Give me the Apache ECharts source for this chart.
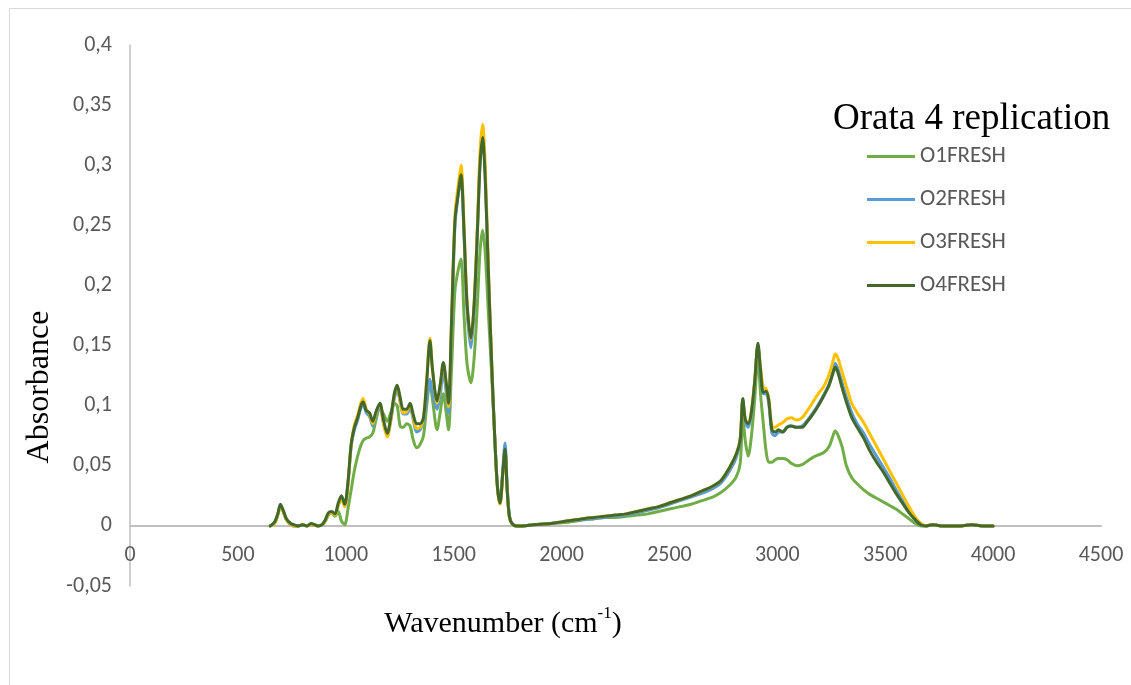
<!DOCTYPE html>
<html>
<head>
<meta charset="utf-8">
<script src="https://cdn.jsdelivr.net/npm/echarts@6/dist/echarts.min.js"></script>
<style>
  html, body { margin: 0; padding: 0; background: #ffffff; }
  #chart { width: 1131px; height: 685px; }
</style>
</head>
<body>
<div id="chart"></div>
<script>
// FTIR spectra of four fresh gilthead sea bream (orata) replicates
const wavenumbers = [
  650, 670, 685, 697, 710, 725, 745, 760, 780, 800, 820, 840, 855, 870, 890, 905, 920, 935, 950, 965, 980, 995,
  1010, 1025, 1040, 1055, 1070, 1080, 1095, 1110, 1125, 1140, 1158, 1175, 1192, 1210, 1225, 1238, 1252, 1266, 1282, 1298, 1312, 1328, 1345,
  1360, 1375, 1390, 1402, 1423, 1438, 1452, 1465, 1476, 1490, 1506, 1520, 1534, 1548, 1562, 1580,
  1595, 1610, 1622, 1634, 1646, 1660, 1675, 1690, 1703, 1715, 1728, 1738, 1748, 1758, 1770, 1790, 1820, 1870,
  1950, 2025, 2100, 2150, 2200, 2250, 2300, 2350, 2400, 2450, 2500, 2550, 2600, 2650, 2700, 2740, 2780, 2810,
  2828, 2840, 2852, 2865, 2880, 2895, 2910, 2922, 2935, 2948, 2960, 2975, 2990, 3005, 3025, 3045, 3065, 3090, 3115,
  3140, 3165, 3190, 3215, 3240, 3258, 3268, 3280, 3300, 3320, 3345, 3370, 3400, 3430, 3460,
  3490, 3520, 3550, 3580, 3610, 3640, 3665, 3690, 3720, 3760, 3800, 3850, 3900, 3950, 4000
];

const o1Fresh = [
  0.000, 0.002, 0.009, 0.016, 0.012, 0.005, 0.001, 0.000, 0.000, 0.001, 0.000, 0.002, 0.001, 0.000, 0.001, 0.004, 0.009, 0.011, 0.008, 0.012, 0.004, 0.001,
  0.014, 0.030, 0.046, 0.058, 0.067, 0.071, 0.073, 0.074, 0.077, 0.088, 0.098, 0.093, 0.087, 0.095, 0.102, 0.100, 0.083, 0.082, 0.085, 0.083, 0.072, 0.065, 0.068,
  0.075, 0.100, 0.120, 0.105, 0.080, 0.095, 0.110, 0.095, 0.080, 0.130, 0.196, 0.212, 0.222, 0.175, 0.135, 0.119,
  0.140, 0.185, 0.228, 0.246, 0.228, 0.180, 0.130, 0.075, 0.032, 0.019, 0.045, 0.064, 0.030, 0.008, 0.002, 0.000, 0.000, 0.001,
  0.002, 0.003, 0.005, 0.006, 0.007, 0.007, 0.008, 0.009, 0.010, 0.012, 0.014, 0.016, 0.018, 0.021, 0.024, 0.028, 0.034, 0.041,
  0.052, 0.090, 0.070, 0.058, 0.075, 0.105, 0.140, 0.110, 0.085, 0.062, 0.053, 0.053, 0.055, 0.056, 0.056, 0.055, 0.052, 0.050, 0.051,
  0.054, 0.057, 0.059, 0.061, 0.066, 0.075, 0.079, 0.076, 0.066, 0.050, 0.040, 0.035, 0.030, 0.026, 0.023,
  0.020, 0.017, 0.014, 0.010, 0.006, 0.002, 0.000, 0.000, 0.001, 0.000, 0.000, 0.000, 0.001, 0.000, 0.000
];

const o2Fresh = [
  0.000, 0.003, 0.010, 0.017, 0.012, 0.005, 0.001, 0.000, 0.000, 0.001, 0.000, 0.001, 0.001, 0.000, 0.001, 0.004, 0.010, 0.011, 0.009, 0.017, 0.023, 0.016,
  0.035, 0.066, 0.080, 0.088, 0.098, 0.101, 0.094, 0.091, 0.083, 0.092, 0.099, 0.085, 0.075, 0.089, 0.106, 0.113, 0.103, 0.093, 0.093, 0.098, 0.089, 0.078, 0.080,
  0.087, 0.105, 0.122, 0.110, 0.097, 0.110, 0.128, 0.112, 0.094, 0.160, 0.250, 0.274, 0.290, 0.242, 0.180, 0.148,
  0.180, 0.245, 0.302, 0.325, 0.292, 0.215, 0.140, 0.075, 0.033, 0.020, 0.048, 0.069, 0.033, 0.009, 0.002, 0.000, 0.000, 0.001,
  0.002, 0.004, 0.005, 0.006, 0.007, 0.008, 0.009, 0.011, 0.013, 0.015, 0.018, 0.021, 0.024, 0.027, 0.031, 0.036, 0.046, 0.057,
  0.071, 0.104, 0.086, 0.082, 0.093, 0.118, 0.150, 0.128, 0.110, 0.110, 0.102, 0.077, 0.075, 0.078, 0.078, 0.082, 0.083, 0.082, 0.083,
  0.088, 0.094, 0.101, 0.109, 0.118, 0.129, 0.135, 0.131, 0.119, 0.107, 0.094, 0.085, 0.077, 0.067, 0.058,
  0.049, 0.040, 0.030, 0.021, 0.012, 0.005, 0.001, 0.000, 0.001, 0.000, 0.000, 0.000, 0.001, 0.000, 0.000
];

const o3Fresh = [
  0.000, 0.002, 0.009, 0.016, 0.012, 0.005, 0.001, 0.000, 0.000, 0.001, 0.000, 0.001, 0.001, 0.000, 0.001, 0.004, 0.010, 0.011, 0.009, 0.017, 0.022, 0.016,
  0.034, 0.068, 0.084, 0.092, 0.102, 0.106, 0.097, 0.093, 0.085, 0.094, 0.101, 0.085, 0.074, 0.090, 0.109, 0.116, 0.104, 0.094, 0.095, 0.101, 0.091, 0.081, 0.082,
  0.090, 0.122, 0.156, 0.130, 0.102, 0.117, 0.135, 0.118, 0.099, 0.168, 0.258, 0.282, 0.300, 0.250, 0.186, 0.155,
  0.186, 0.250, 0.310, 0.334, 0.300, 0.220, 0.142, 0.075, 0.031, 0.018, 0.043, 0.062, 0.029, 0.007, 0.002, 0.000, 0.000, 0.001,
  0.002, 0.004, 0.006, 0.007, 0.008, 0.009, 0.010, 0.012, 0.014, 0.016, 0.019, 0.022, 0.025, 0.029, 0.033, 0.038, 0.049, 0.060,
  0.073, 0.104, 0.088, 0.086, 0.096, 0.120, 0.150, 0.132, 0.115, 0.114, 0.106, 0.083, 0.082, 0.084, 0.086, 0.089, 0.090, 0.088, 0.090,
  0.096, 0.103, 0.110, 0.116, 0.126, 0.137, 0.143, 0.140, 0.128, 0.116, 0.102, 0.094, 0.086, 0.076, 0.066,
  0.056, 0.046, 0.036, 0.026, 0.016, 0.007, 0.002, 0.000, 0.001, 0.000, 0.000, 0.000, 0.001, 0.000, 0.000
];

const o4Fresh = [
  0.000, 0.003, 0.010, 0.018, 0.013, 0.006, 0.002, 0.001, 0.000, 0.001, 0.000, 0.002, 0.001, 0.000, 0.001, 0.005, 0.011, 0.012, 0.010, 0.019, 0.025, 0.018,
  0.036, 0.068, 0.082, 0.090, 0.100, 0.103, 0.096, 0.094, 0.087, 0.095, 0.102, 0.088, 0.077, 0.092, 0.110, 0.117, 0.107, 0.097, 0.097, 0.102, 0.093, 0.085, 0.085,
  0.090, 0.120, 0.154, 0.130, 0.104, 0.118, 0.136, 0.120, 0.102, 0.170, 0.254, 0.275, 0.292, 0.245, 0.185, 0.156,
  0.185, 0.245, 0.300, 0.323, 0.290, 0.215, 0.140, 0.075, 0.032, 0.019, 0.045, 0.064, 0.030, 0.008, 0.002, 0.000, 0.000, 0.001,
  0.002, 0.004, 0.006, 0.007, 0.008, 0.009, 0.010, 0.012, 0.014, 0.016, 0.019, 0.022, 0.025, 0.029, 0.033, 0.038, 0.049, 0.060,
  0.072, 0.106, 0.088, 0.085, 0.095, 0.120, 0.152, 0.130, 0.111, 0.112, 0.105, 0.080, 0.078, 0.080, 0.078, 0.082, 0.083, 0.082, 0.082,
  0.087, 0.093, 0.100, 0.108, 0.117, 0.127, 0.132, 0.128, 0.115, 0.103, 0.090, 0.082, 0.073, 0.062, 0.053,
  0.045, 0.036, 0.027, 0.019, 0.011, 0.005, 0.001, 0.000, 0.001, 0.000, 0.000, 0.000, 0.001, 0.000, 0.000
];

const seriesNames = ['O1FRESH', 'O2FRESH', 'O3FRESH', 'O4FRESH'];
const seriesValues = [o1Fresh, o2Fresh, o3Fresh, o4Fresh];
const seriesColors = ['#70ad47', '#5b9bd5', '#ffc000', '#43682b'];

const legendTitle = 'Orata 4 replication';
const yAxisTitle = 'Absorbance';

const labelFont = "Carlito, 'Liberation Sans', sans-serif";
const serifFont = "'Liberation Serif', 'Times New Roman', serif";

const chart = echarts.init(document.getElementById('chart'), null, { renderer: 'canvas' });

const series = seriesNames.map((name, s) => ({
  name: name,
  type: 'line',
  data: wavenumbers.map((w, i) => [w, seriesValues[s][i]]),
  symbol: 'none',
  showSymbol: false,
  smooth: 0.3,
  color: seriesColors[s],
  lineStyle: { width: 3, color: seriesColors[s], cap: 'round', join: 'round' },
  z: 2 + s
}));

// plot area: y from -0.05 (bottom) to 0.4 (top); the x axis sits on y = 0
const gridTop = 45;
const gridBottom = 99;
const plotHeight = 685 - gridTop - gridBottom;
const zeroOffset = -Math.round(plotHeight * 0.05 / 0.45);

chart.setOption({
  animation: false,
  backgroundColor: '#ffffff',
  grid: { left: 130, right: 30, top: gridTop, bottom: gridBottom, containLabel: false },
  xAxis: {
    type: 'value',
    min: 0,
    max: 4500,
    interval: 500,
    offset: zeroOffset,
    axisLine: { show: true, onZero: false, lineStyle: { color: '#bfbfbf', width: 2 } },
    axisTick: { show: false },
    splitLine: { show: false },
    axisLabel: {
      color: '#595959', fontSize: 22, fontFamily: labelFont, margin: 18,
      formatter: v => String(v)
    }
  },
  yAxis: {
    type: 'value',
    min: -0.05,
    max: 0.4,
    interval: 0.05,
    axisLine: { show: true, onZero: false, lineStyle: { color: '#bfbfbf', width: 1.5 } },
    axisTick: { show: false },
    splitLine: { show: false },
    axisLabel: {
      color: '#595959',
      fontSize: 22,
      fontFamily: labelFont,
      margin: 18,
      formatter: v => String(Math.round(v * 100) / 100).replace('.', ',')
    }
  },
  legend: {
    orient: 'vertical',
    left: 862,
    top: 140,
    icon: 'rect',
    itemWidth: 48,
    itemHeight: 3,
    itemGap: 20,
    data: seriesNames,
    textStyle: { color: '#595959', fontSize: 23, lineHeight: 20, fontFamily: labelFont }
  },
  graphic: [
    {
      type: 'rect',
      silent: true,
      shape: { x: 9.5, y: 8.5, width: 1140, height: 700 },
      style: { fill: 'none', stroke: '#d9d9d9', lineWidth: 1 },
      z: -10
    },
    {
      type: 'text',
      left: 833,
      top: 101,
      style: { text: legendTitle, fontSize: 37, fontFamily: serifFont, fill: '#000000' }
    },
    {
      type: 'text',
      x: 40,
      y: 387,
      rotation: Math.PI / 2,
      style: {
        text: yAxisTitle,
        fontSize: 32,
        fontFamily: serifFont,
        fill: '#000000',
        align: 'center',
        verticalAlign: 'middle'
      }
    },
    {
      type: 'text',
      x: 503,
      y: 622,
      style: {
        text: '{a|Wavenumber (cm}{s|-1}{a|)}',
        align: 'center',
        verticalAlign: 'middle',
        fill: '#000000',
        rich: {
          a: { fontSize: 30, fontFamily: serifFont, fill: '#000000', lineHeight: 34, verticalAlign: 'bottom' },
          s: { fontSize: 17, fontFamily: serifFont, fill: '#000000', lineHeight: 34, verticalAlign: 'top', padding: [0, 0, 14, 0] }
        }
      }
    }
  ],
  series: series
});
</script>
</body>
</html>
